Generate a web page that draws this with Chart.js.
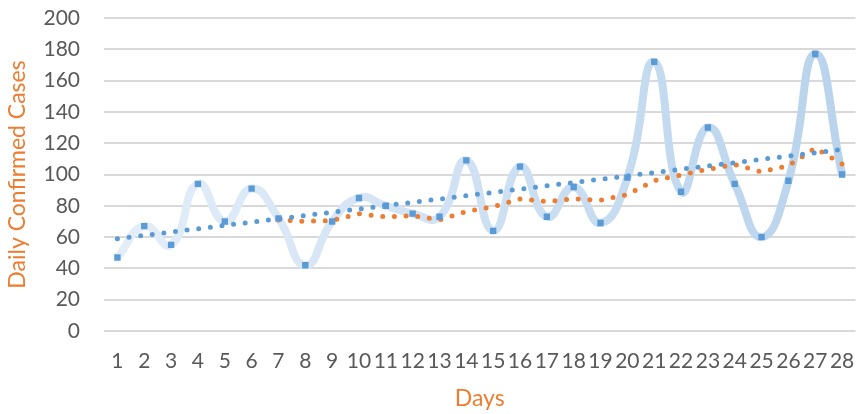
<!DOCTYPE html>
<html>
<head>
<meta charset="utf-8">
<script src="https://cdn.jsdelivr.net/npm/chart.js@4/dist/chart.umd.min.js"></script>
<style>
  html, body { margin: 0; padding: 0; background: #fff; }
  #wrap { width: 860px; height: 414px; }
</style>
</head>
<body>
<div id="wrap"><canvas id="chart" width="860" height="414"></canvas></div>
<script>
// số liệu
const days = ['1','2','3','4','5','6','7','8','9','10','11','12','13','14','15','16','17','18','19','20','21','22','23','24','25','26','27','28'];
const cases = [47, 67, 55, 94, 70, 91, 72, 42, 70, 85, 80, 75, 73, 109, 64, 105, 73, 92, 69, 98, 172, 89, 130, 94, 60, 96, 177, 100];
// đường trung bình động 7 ngày
const movingAvg = [null, null, null, null, null, null, 70.9, 70.1, 70.6, 74.9, 72.9, 73.6, 71.0, 76.3, 79.4, 84.4, 82.7, 84.4, 83.6, 87.1, 96.1, 99.7, 103.3, 106.3, 101.7, 105.6, 116.9, 106.6];
// đường xu hướng tuyến tính: chỉ hai đầu mút
const linearTrend = [59, null, null, null, null, null, null, null, null, null, null, null, null, null, null, null, null, null, null, null, null, null, null, null, null, null, null, 116];
const yTicks = { min: 0, max: 200, step: 20 };

const tickFont = { family: 'Lato, "Open Sans", sans-serif', size: 21 };
const titleFont = { family: 'Lato, "Open Sans", sans-serif', size: 23 };

function lineGradient(ctx) {
  const area = ctx.chart.chartArea;
  if (!area) return '#cfe1f3';
  const g = ctx.chart.ctx.createLinearGradient(area.left, 0, area.right, 0);
  g.addColorStop(0, '#e4eef9');
  g.addColorStop(1, '#b8d3ec');
  return g;
}

new Chart(document.getElementById('chart').getContext('2d'), {
  type: 'line',
  data: {
    labels: days,
    datasets: [
      {
        label: 'Markers',
        data: cases,
        showLine: false,
        pointStyle: 'rect',
        pointRadius: 4.5,
        pointBackgroundColor: '#5b9bd5',
        pointBorderWidth: 0,
        order: 0
      },
      {
        label: 'Trend',
        data: linearTrend,
        spanGaps: true,
        borderColor: '#5b9bd5',
        borderWidth: 5,
        borderDash: [0, 11.7],
        borderCapStyle: 'round',
        pointRadius: 0,
        order: 1
      },
      {
        label: 'Moving average',
        data: movingAvg,
        borderColor: '#ed7d31',
        borderWidth: 5,
        borderDash: [0, 11.7],
        borderCapStyle: 'round',
        pointRadius: 0,
        order: 2
      },
      {
        label: 'Daily Confirmed Cases',
        data: cases,
        borderColor: lineGradient,
        borderWidth: 8,
        tension: 0.5,
        pointRadius: 0,
        order: 3
      }
    ]
  },
  options: {
    responsive: false,
    animation: false,
    layout: { padding: { top: 6, left: 4, right: 0, bottom: 0 } },
    plugins: { legend: { display: false }, tooltip: { enabled: false } },
    scales: {
      x: {
        offset: true,
        grid: { display: false, drawTicks: false },
        border: { display: false },
        ticks: { color: '#595959', font: tickFont, padding: 18, autoSkip: false, maxRotation: 0 },
        title: { display: true, text: 'Days', color: '#ed7d31', font: titleFont, padding: { top: 0, bottom: 2 } },
        afterFit: s => { s.height = 83; s.paddingLeft = 0; s.paddingRight = 0; }
      },
      y: {
        min: yTicks.min,
        max: yTicks.max,
        ticks: { stepSize: yTicks.step, color: '#595959', font: tickFont, padding: 24 },
        grid: { color: '#d9d9d9', lineWidth: 2, drawTicks: false },
        border: { display: false },
        title: { display: true, text: 'Daily Confirmed Cases', color: '#ed7d31', font: titleFont, padding: { top: 0, bottom: 4 } },
        afterFit: s => { s.width = 100; s.paddingTop = 18; s.paddingBottom = 0; }
      }
    }
  }
});
</script>
</body>
</html>
